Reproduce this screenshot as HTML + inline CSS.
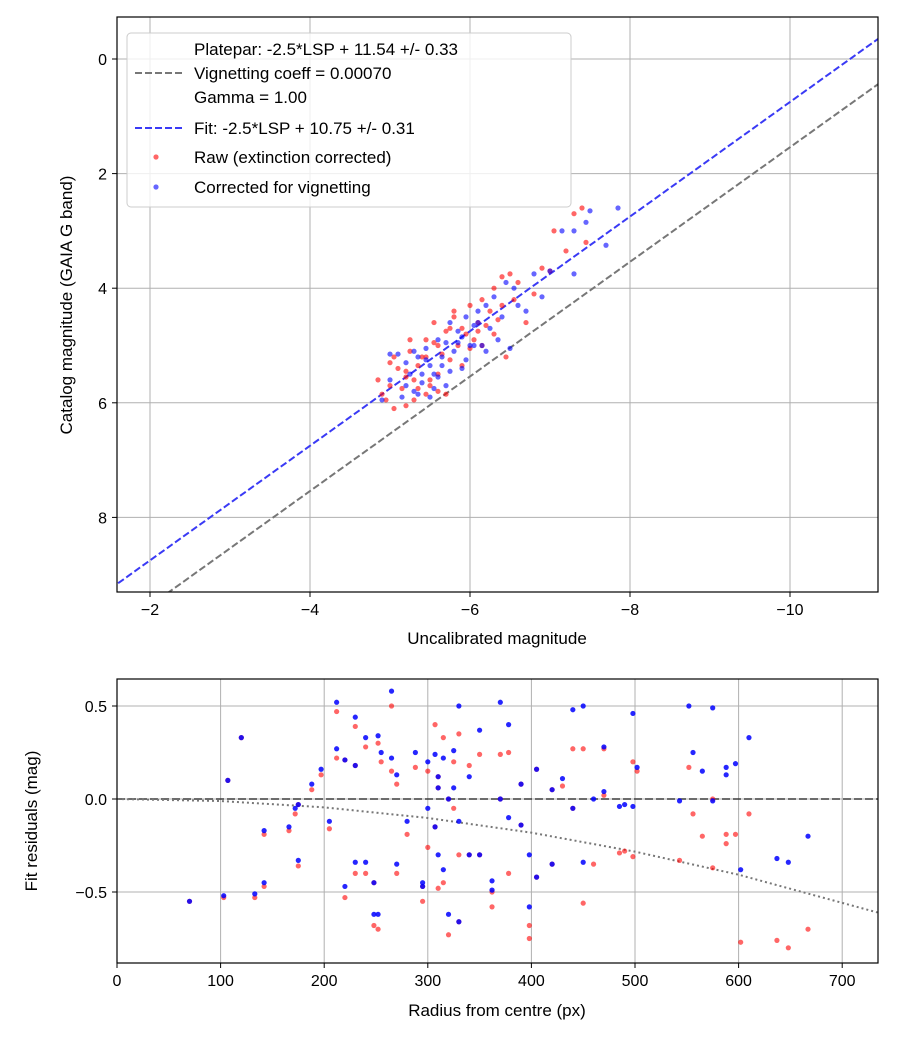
<!DOCTYPE html>
<html><head><meta charset="utf-8"><style>
body{margin:0;background:#fff;}
svg text{font-family:"Liberation Sans","DejaVu Sans",sans-serif;fill:#000;}
</style></head><body>
<svg id="chart" width="900" height="1050" viewBox="0 0 900 1050" xmlns="http://www.w3.org/2000/svg"></svg>
<script>
// ---- top plot data ----
const topXTicks=[-2,-4,-6,-8,-10];
const topYTicks=[0,2,4,6,8];
const fitIntercept=10.75;
const plateparIntercept=11.54;
const rawPoints=[[-4.85,5.6],[-4.95,5.95],[-5.05,6.1],[-5.2,6.05],[-5.0,5.3],[-5.05,5.2],[-5.1,5.4],[-5.2,5.45],[-5.25,5.1],[-5.3,5.6],[-5.35,5.75],[-5.4,5.2],[-5.45,4.9],[-5.5,5.6],[-5.55,4.6],[-5.6,5.0],[-5.6,5.5],[-5.7,4.75],[-5.75,5.25],[-5.8,4.5],[-5.85,5.0],[-5.9,4.7],[-5.95,4.8],[-6.0,4.3],[-6.05,4.9],[-6.1,4.6],[-6.15,4.2],[-6.2,4.65],[-6.25,4.4],[-6.3,4.0],[-6.35,4.55],[-6.4,3.8],[-6.5,3.75],[-6.55,4.2],[-6.6,3.9],[-6.7,4.6],[-6.8,4.1],[-6.9,3.65],[-7.0,3.7],[-7.05,3.0],[-7.2,3.35],[-7.3,2.7],[-7.4,2.6],[-7.45,3.2],[-5.3,5.95],[-5.45,5.85],[-5.5,5.7],[-5.15,5.75],[-5.35,5.35],[-5.65,5.15],[-5.2,5.55],[-5.7,5.85],[-5.9,5.35],[-6.0,5.05],[-6.15,5.0],[-5.45,5.2],[-5.55,4.95],[-5.8,4.4],[-6.3,4.8],[-6.45,5.2],[-5.0,5.7],[-4.9,5.85],[-5.6,5.8],[-5.25,4.9],[-5.75,4.7],[-6.1,4.75],[-6.4,4.3]];
const correctedPoints=[[-4.9,5.95],[-5.0,5.6],[-5.1,5.15],[-5.2,5.3],[-5.25,5.5],[-5.3,5.8],[-5.35,5.2],[-5.4,5.65],[-5.45,5.05],[-5.5,5.9],[-5.55,5.5],[-5.6,4.9],[-5.65,5.35],[-5.7,5.7],[-5.75,4.6],[-5.8,5.1],[-5.85,4.75],[-5.9,5.4],[-5.95,4.5],[-6.0,5.0],[-6.05,4.65],[-6.1,4.4],[-6.15,5.0],[-6.2,4.3],[-6.25,4.7],[-6.3,4.15],[-6.4,4.5],[-6.45,3.9],[-6.55,4.0],[-6.6,4.3],[-6.7,4.4],[-6.8,3.75],[-6.9,4.15],[-7.0,3.7],[-7.15,3.0],[-7.3,3.0],[-7.45,2.85],[-7.5,2.65],[-7.7,3.25],[-7.85,2.6],[-7.3,3.75],[-5.15,5.9],[-5.3,5.1],[-5.4,5.5],[-5.55,5.75],[-5.65,5.2],[-5.45,5.25],[-5.75,5.45],[-5.85,4.95],[-5.95,5.25],[-6.05,5.0],[-6.2,5.1],[-5.35,5.85],[-5.6,5.55],[-5.2,5.7],[-5.9,4.85],[-6.35,4.9],[-6.5,5.05],[-5.0,5.15],[-5.5,5.35],[-6.1,4.6],[-5.7,4.95]];
// ---- bottom plot data ----
const botXTicks=[0,100,200,300,400,500,600,700];
const botYTicks=[0.5,0.0,-0.5];
const botYTickLabels=["0.5","0.0","−0.5"];
const radii=[70,103,107,120,133,142,142,166,172,175,175,188,197,205,212,212,220,220,230,230,230,240,240,248,248,252,252,255,265,265,270,270,280,288,295,295,300,300,307,307,310,310,310,315,315,320,320,325,325,330,330,330,340,340,350,350,362,362,370,370,378,378,390,390,398,398,405,405,420,420,430,440,440,450,450,460,470,470,485,490,498,498,502,543,552,556,565,575,575,588,588,597,602,610,637,648,667];
const rawResid=[-0.55,-0.53,0.1,0.33,-0.53,-0.19,-0.47,-0.17,-0.08,-0.36,-0.03,0.05,0.13,-0.16,0.47,0.22,-0.53,0.21,0.18,0.39,-0.4,0.28,-0.4,-0.68,-0.45,0.3,-0.7,0.2,0.5,0.15,-0.4,0.08,-0.19,0.17,-0.55,-0.47,0.15,-0.26,0.4,-0.15,-0.48,0.06,0.12,0.33,-0.45,-0.73,0.0,0.2,-0.05,0.35,-0.3,-0.66,0.18,-0.3,0.24,-0.3,-0.58,-0.5,0.24,0.0,0.25,-0.4,0.08,-0.14,-0.75,-0.68,0.16,-0.42,0.05,-0.35,0.07,0.27,-0.05,0.27,-0.56,-0.35,0.27,0.02,-0.29,-0.28,0.2,-0.31,0.15,-0.33,0.17,-0.08,-0.2,-0.37,0.0,-0.19,-0.24,-0.19,-0.77,-0.08,-0.76,-0.8,-0.7];
const corrResid=[-0.55,-0.52,0.1,0.33,-0.51,-0.17,-0.45,-0.15,-0.05,-0.33,-0.03,0.08,0.16,-0.12,0.52,0.27,-0.47,0.21,0.18,0.44,-0.34,0.33,-0.34,-0.62,-0.45,0.34,-0.62,0.25,0.58,0.22,-0.35,0.13,-0.12,0.25,-0.47,-0.45,0.2,-0.05,0.24,-0.15,-0.3,0.06,0.12,0.22,-0.38,-0.62,0.0,0.26,0.06,0.5,-0.12,-0.66,0.12,-0.3,0.37,-0.3,-0.44,-0.49,0.52,0.0,0.4,-0.1,0.08,-0.14,-0.58,-0.3,0.16,-0.42,0.05,-0.35,0.11,0.48,-0.05,0.5,-0.34,0.0,0.28,0.04,-0.04,-0.03,0.46,-0.04,0.17,-0.01,0.5,0.25,0.15,0.49,-0.01,0.17,0.13,0.19,-0.38,0.33,-0.32,-0.34,-0.2];
const vignR=[0,100,200,300,400,500,600,734];
const vignY=[0,-0.011,-0.045,-0.102,-0.181,-0.283,-0.407,-0.61];

const S=document.getElementById('chart');
const NS='http://www.w3.org/2000/svg';
function mk(tag,attrs,parent){const e=document.createElementNS(NS,tag);for(const k in attrs)e.setAttribute(k,attrs[k]);(parent||S).appendChild(e);return e;}

const T={l:117,r:878,t:17,b:592};
const tx=v=>150+(-v-2)*80;
const ty=v=>59+v*57.3;
const B={l:117,r:878,t:679,b:963};
const bx=v=>117+v*1.036;
const by=v=>799-v*186;

function frame(P,name){
  const g=mk('g',{});
  
  
  return g;
}
// ---------- top ----------
const gt=frame(T,'magnitude-plot');
const gtGrid=mk('g',{},gt);

topXTicks.forEach(v=>{
  const x=tx(v);
  mk('line',{x1:x,x2:x,y1:T.t,y2:T.b,stroke:'#b0b0b0','stroke-width':1},gtGrid);
  mk('line',{x1:x,x2:x,y1:T.b,y2:T.b+5,stroke:'#000'},gt);
  const t=mk('text',{x:x,y:T.b+23,'text-anchor':'middle','font-size':16},gt);
  t.textContent=v<0?'−'+(-v):String(v);
  
});
topYTicks.forEach(v=>{
  const y=ty(v);
  mk('line',{x1:T.l,x2:T.r,y1:y,y2:y,stroke:'#b0b0b0','stroke-width':1},gtGrid);
  mk('line',{x1:T.l-5,x2:T.l,y1:y,y2:y,stroke:'#000'},gt);
  const t=mk('text',{x:T.l-10,y:y+6,'text-anchor':'end','font-size':16},gt);
  t.textContent=String(v);
  
});
mk('clipPath',{id:'ct'}).appendChild(mk('rect',{x:T.l,y:T.t,width:T.r-T.l,height:T.b-T.t}));
const gtc=mk('g',{'clip-path':'url(#ct)'},gt);
const xa=-1.5,xb=-11.2;
const pl=mk('line',{x1:tx(xa),y1:ty(plateparIntercept+xa),x2:tx(xb),y2:ty(plateparIntercept+xb),stroke:'#777','stroke-width':2,'stroke-dasharray':'7,3'},gtc);

const fl=mk('line',{x1:tx(xa),y1:ty(fitIntercept+xa),x2:tx(xb),y2:ty(fitIntercept+xb),stroke:'#3a3af5','stroke-width':2,'stroke-dasharray':'7,3'},gtc);

rawPoints.forEach(p=>{const c=mk('circle',{cx:tx(p[0]),cy:ty(p[1]),r:2.6,fill:'red','fill-opacity':0.6},gtc);
  });
correctedPoints.forEach(p=>{const c=mk('circle',{cx:tx(p[0]),cy:ty(p[1]),r:2.6,fill:'blue','fill-opacity':0.6},gtc);
  });
mk('rect',{x:T.l,y:T.t,width:T.r-T.l,height:T.b-T.t,fill:'none',stroke:'#000','stroke-width':1.2},gt);
// legend
const lg=mk('g',{},gt);

mk('rect',{x:127,y:33,width:444,height:174,rx:4,fill:'#fff','fill-opacity':0.8,stroke:'#ccc'},lg);
const legItems=[
 {y:49,t:'Platepar: -2.5*LSP + 11.54 +/- 0.33'},
 {y:73,t:'Vignetting coeff = 0.00070',line:'#777'},
 {y:97,t:'Gamma = 1.00'},
 {y:128,t:'Fit: -2.5*LSP + 10.75 +/- 0.31',line:'#3a3af5'},
 {y:157,t:'Raw (extinction corrected)',dot:'red'},
 {y:187,t:'Corrected for vignetting',dot:'blue'}];
legItems.forEach(it=>{
  if(it.line)mk('line',{x1:135,x2:183,y1:it.y,y2:it.y,stroke:it.line,'stroke-width':2,'stroke-dasharray':'7,3'},lg);
  if(it.dot)mk('circle',{cx:156,cy:it.y,r:2.6,fill:it.dot,'fill-opacity':0.6},lg);
  const t=mk('text',{x:194,y:it.y+6,'font-size':17},lg);t.textContent=it.t;
  
});
let t=mk('text',{x:497,y:644,'text-anchor':'middle','font-size':17},gt);t.textContent='Uncalibrated magnitude';

t=mk('text',{x:0,y:0,'text-anchor':'middle','font-size':17,transform:'translate(72,305) rotate(-90)'},gt);t.textContent='Catalog magnitude (GAIA G band)';


// ---------- bottom ----------
const gb=frame(B,'residuals-plot');
const gbGrid=mk('g',{},gb);

botXTicks.forEach(v=>{
  const x=bx(v);
  mk('line',{x1:x,x2:x,y1:B.t,y2:B.b,stroke:'#b0b0b0','stroke-width':1},gbGrid);
  mk('line',{x1:x,x2:x,y1:B.b,y2:B.b+5,stroke:'#000'},gb);
  const tt=mk('text',{x:x,y:B.b+23,'text-anchor':'middle','font-size':16},gb);tt.textContent=String(v);
  
});
botYTicks.forEach((v,i)=>{
  const y=by(v);
  mk('line',{x1:B.l,x2:B.r,y1:y,y2:y,stroke:'#b0b0b0','stroke-width':1},gbGrid);
  mk('line',{x1:B.l-5,x2:B.l,y1:y,y2:y,stroke:'#000'},gb);
  const tt=mk('text',{x:B.l-10,y:y+6,'text-anchor':'end','font-size':16},gb);tt.textContent=botYTickLabels[i];
  
});
mk('clipPath',{id:'cb'}).appendChild(mk('rect',{x:B.l,y:B.t,width:B.r-B.l,height:B.b-B.t}));
const gbc=mk('g',{'clip-path':'url(#cb)'},gb);
const zl=mk('line',{x1:B.l,x2:B.r,y1:by(0),y2:by(0),stroke:'#000','stroke-opacity':0.5,'stroke-width':2,'stroke-dasharray':'8,3'},gbc);

const vp=mk('polyline',{points:vignR.map((r,i)=>bx(r)+','+by(vignY[i])).join(' '),fill:'none',stroke:'#777','stroke-width':2,'stroke-dasharray':'2,3'},gbc);

radii.forEach((r,i)=>{const c=mk('circle',{cx:bx(r),cy:by(rawResid[i]),r:2.6,fill:'red','fill-opacity':0.6},gbc);
  });
radii.forEach((r,i)=>{const c=mk('circle',{cx:bx(r),cy:by(corrResid[i]),r:2.6,fill:'blue','fill-opacity':0.85},gbc);
  });
mk('rect',{x:B.l,y:B.t,width:B.r-B.l,height:B.b-B.t,fill:'none',stroke:'#000','stroke-width':1.2},gb);
t=mk('text',{x:497,y:1016,'text-anchor':'middle','font-size':17},gb);t.textContent='Radius from centre (px)';

t=mk('text',{x:0,y:0,'text-anchor':'middle','font-size':17,transform:'translate(37,821) rotate(-90)'},gb);t.textContent='Fit residuals (mag)';

</script>
</body></html>
